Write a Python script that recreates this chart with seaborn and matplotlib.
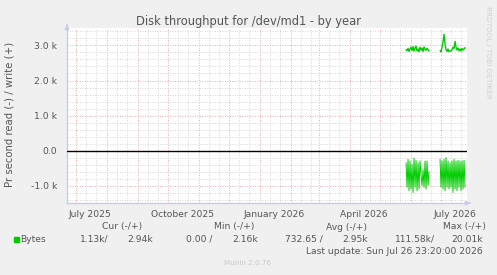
import matplotlib
matplotlib.use("Agg")
import matplotlib.pyplot as plt
import matplotlib.dates as mdates
import matplotlib.transforms as mtransforms
import numpy as np
import pandas as pd
import seaborn as sns

# ---------------- data ----------------
title = "Disk throughput for /dev/md1 - by year"
ylabel = "Pr second read (-) / write (+)"
range_start = "2025-06-21 23:20"
range_end = "2026-07-26 23:20"

seg1_start = "2026-05-27"
seg2_start = "2026-06-30"

write_seg1 = [2880, 2850, 2920, 2830, 2900, 2950, 2860, 2970, 2840, 2930, 2980, 2850,
              2900, 2820, 2950, 2870, 2930, 2830, 2960, 2900, 2860, 2920, 2880, 2840]
write_seg2 = [2850, 2820, 2950, 3100, 3320, 3050, 2880, 2830, 2900, 2820, 2850, 2840,
              2880, 2950, 2920, 3120, 2950, 2870, 2930, 2850, 2900, 2840, 2920, 2870,
              2900, 2940]
read_seg1 = [-350, -1050, -250, -1150, -300, -1100, -400, -1200, -220, -1050, -280, -1150,
             -350, -1100, -300, -700, -1000, -550, -1050, -300, -1100, -300, -1000, -600]
read_seg2 = [-250, -1050, -300, -1100, -250, -1150, -200, -1050, -300, -1100, -350, -1050,
             -300, -1200, -250, -1100, -300, -1150, -280, -1050, -300, -1150, -300, -1100,
             -280, -1050]

ytick_vals = [-1000, 0, 1000, 2000, 3000]
ytick_labels = ["-1.0 k", "0.0", "1.0 k", "2.0 k", "3.0 k"]
xlabel_dates = ["2025-07-15", "2025-10-15", "2026-01-15", "2026-04-15", "2026-07-15"]
xlabel_texts = ["July 2025", "October 2025", "January 2026", "April 2026", "July 2026"]

legend_headers = ["Cur (-/+)", "Min (-/+)", "Avg (-/+)", "Max (-/+)"]
legend_values = [("1.13k/", "2.94k"), ("0.00 /", "2.16k"), ("732.65 /", "2.95k"), ("111.58k/", "20.01k")]
last_update = "Last update: Sun Jul 26 23:20:00 2026"
munin_version = "Munin 2.0.76"

# ---------------- build frame ----------------
def seg_frame(start, vals, name, seg):
    d = pd.date_range(start, periods=len(vals), freq="D")
    return pd.DataFrame({"date": d, "value": vals, "series": name, "seg": seg})

df = pd.concat([
    seg_frame(seg1_start, write_seg1, "write", 1),
    seg_frame(seg2_start, write_seg2, "write", 2),
    seg_frame(seg1_start, read_seg1, "read", 1),
    seg_frame(seg2_start, read_seg2, "read", 2),
], ignore_index=True)
df["key"] = df["series"] + df["seg"].astype(str)

# ---------------- figure ----------------
sns.set_style("white")
plt.rcParams["font.family"] = ["DejaVu Sans"]
W, H = 497, 275
fig = plt.figure(figsize=(W / 100, H / 100), dpi=100)
fig.patch.set_facecolor("#f0f0f0")
ax = fig.add_axes([67 / W, 1 - 203 / H, 400 / W, 175 / H])
ax.set_facecolor("white")

green = "#00cc00"
sns.lineplot(data=df[df["series"] == "write"], x="date", y="value", units="key",
             estimator=None, color=green, lw=1.0, ax=ax, legend=False)
sns.lineplot(data=df[df["series"] == "read"], x="date", y="value", units="key",
             estimator=None, color=green, lw=0.7, ax=ax, legend=False)

t0 = pd.Timestamp(range_start)
t1 = pd.Timestamp(range_end)
ax.set_xlim(t0, t1)
ax.set_ylim(-1500, 3500)

# y ticks / grid
ax.set_yticks(ytick_vals)
ax.set_yticklabels(ytick_labels)
ax.set_yticks(np.arange(-1400, 3500, 200), minor=True)

# x ticks / grid
ax.xaxis.set_major_locator(mdates.MonthLocator(bymonthday=1))
ax.xaxis.set_minor_locator(mdates.DayLocator(bymonthday=[11, 21]))
ax.xaxis.set_major_formatter(plt.NullFormatter())

ax.grid(which="major", color="#e89090", ls=(0, (1, 2)), lw=0.6)
ax.grid(which="minor", color="#c8c8c8", ls=(0, (1, 2)), lw=0.6)
ax.set_axisbelow(True)
ax.axhline(0, color="black", lw=1.0, zorder=3)

ax.tick_params(axis="y", which="major", length=3, color="#e89090", labelsize=6.7,
               labelcolor="#555555", pad=4)
ax.tick_params(axis="y", which="minor", length=2, color="#c8c8c8")
ax.tick_params(axis="x", which="major", length=3, color="#e89090", labelsize=6.5)
ax.tick_params(axis="x", which="minor", length=2, color="#c8c8c8")

for s in ["top", "right"]:
    ax.spines[s].set_visible(False)
for s in ["left", "bottom"]:
    ax.spines[s].set_color("#c8c8f0")
    ax.spines[s].set_linewidth(1.0)

ax.set_xlabel("")
ax.set_ylabel("")

# axis arrows
ax.annotate("", xy=(1.015, 0), xycoords="axes fraction", xytext=(1.0, 0),
            arrowprops=dict(arrowstyle="-|>", color="#c8c8f0", lw=1.0,
                            mutation_scale=6), annotation_clip=False)
ax.annotate("", xy=(0, 1.035), xycoords="axes fraction", xytext=(0, 1.0),
            arrowprops=dict(arrowstyle="-|>", color="#c8c8f0", lw=1.0,
                            mutation_scale=6), annotation_clip=False)

# x labels at mid-month
trans = mtransforms.blended_transform_factory(ax.transData, ax.transAxes)
for d, t in zip(xlabel_dates, xlabel_texts):
    ax.text(mdates.date2num(pd.Timestamp(d)), -0.04, t, transform=trans,
            ha="center", va="top", fontsize=6.6, color="#555555")

txt = "#555555"
def ftext(x, y, s, **kw):
    kw.setdefault("color", txt)
    kw.setdefault("fontsize", 6.6)
    fig.text(x / W, 1 - y / H, s, **kw)

ftext(248, 21, title, ha="center", va="center", fontsize=8.3)
ftext(10, 114, ylabel, ha="center", va="center", rotation=90, fontsize=7.3)
ftext(488, 6, "RRDTOOL / TOBI OETIKER", ha="center", va="top", rotation=-90,
      fontsize=5.2, color="#d0d0d0")

header_x = [122, 234, 346, 464]
for x, h in zip(header_x, legend_headers):
    ftext(x, 227, h, ha="center", va="center")

fig.patches.append(plt.Rectangle((14 / W, 1 - 242 / H), 5 / W, 5 / H,
                                 transform=fig.transFigure, color=green))
ftext(20, 239, "Bytes", ha="left", va="center")
val_x = [(109, 153), (213, 258), (323, 368), (435, 483)]
for (xa, xb), (va_, vb) in zip(val_x, legend_values):
    ftext(xa, 239, va_, ha="right", va="center")
    ftext(xb, 239, vb, ha="right", va="center")

ftext(483, 251, last_update, ha="right", va="center")
ftext(248, 263, munin_version, ha="center", va="center", fontsize=5.2, color="#c8c8c8")

fig.savefig("out.png", dpi=100, facecolor=fig.get_facecolor())
